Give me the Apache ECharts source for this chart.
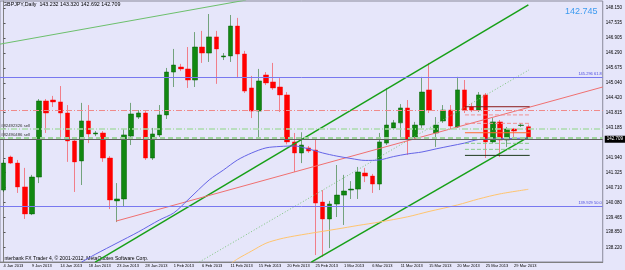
<!DOCTYPE html>
<html>
<head>
<meta charset="utf-8">
<script src="https://cdn.jsdelivr.net/npm/echarts@6/dist/echarts.min.js"></script>
<style>
  html, body { margin: 0; padding: 0; background: #e6e6fa; }
  #main { width: 625px; height: 270px; }
</style>
</head>
<body>
<div id="main"></div>
<script>
// bars (MT4 daily, Sunday bars included)
const dates = [
  "4 Jan 2013", "6 Jan 2013", "7 Jan 2013", "8 Jan 2013", "9 Jan 2013", "10 Jan 2013", "11 Jan 2013",
  "13 Jan 2013", "14 Jan 2013", "15 Jan 2013", "16 Jan 2013", "17 Jan 2013", "18 Jan 2013",
  "20 Jan 2013", "21 Jan 2013", "22 Jan 2013", "23 Jan 2013", "24 Jan 2013", "25 Jan 2013",
  "27 Jan 2013", "28 Jan 2013", "29 Jan 2013", "30 Jan 2013", "31 Jan 2013", "1 Feb 2013",
  "3 Feb 2013", "4 Feb 2013", "5 Feb 2013", "6 Feb 2013", "7 Feb 2013", "8 Feb 2013",
  "10 Feb 2013", "11 Feb 2013", "12 Feb 2013", "13 Feb 2013", "14 Feb 2013", "15 Feb 2013",
  "17 Feb 2013", "18 Feb 2013", "19 Feb 2013", "20 Feb 2013", "21 Feb 2013", "22 Feb 2013",
  "24 Feb 2013", "25 Feb 2013", "26 Feb 2013", "27 Feb 2013", "28 Feb 2013", "1 Mar 2013",
  "3 Mar 2013", "4 Mar 2013", "5 Mar 2013", "6 Mar 2013", "7 Mar 2013", "8 Mar 2013",
  "10 Mar 2013", "11 Mar 2013", "12 Mar 2013", "13 Mar 2013", "14 Mar 2013", "15 Mar 2013",
  "17 Mar 2013", "18 Mar 2013", "19 Mar 2013", "20 Mar 2013", "21 Mar 2013", "22 Mar 2013",
  "24 Mar 2013", "25 Mar 2013", "26 Mar 2013", "27 Mar 2013", "28 Mar 2013", "29 Mar 2013",
  "31 Mar 2013", "1 Apr 2013"
];
const opens = [
  140.60, 141.97, 141.72, 140.73, 139.61, 141.14, 144.30, 144.34, 144.26, 143.80,
  142.64, 141.81, 143.47, 142.93, 142.97, 141.93, 140.15, 140.23, 142.84, 143.63,
  143.80, 141.93, 142.89, 143.72, 145.50, 145.71, 145.63, 145.17, 146.54, 146.29,
  146.96, 146.13, 146.17, 147.41, 146.25, 144.84, 143.88, 145.38, 145.09, 144.88,
  144.55, 142.60, 142.14, 142.35, 142.26, 140.10, 139.40, 140.02, 140.39, 140.60,
  140.64, 141.31, 141.18, 140.85, 142.55, 143.18, 143.39, 144.01, 142.80, 143.30,
  144.76, 142.97, 143.47, 143.92, 143.22, 144.76, 144.05, 143.92, 144.55, 142.60,
  143.43, 142.68, 143.14, 143.28, 143.232
];
const closes = [
  141.72, 141.72, 140.73, 139.61, 141.14, 144.30, 143.80, 144.26, 143.80, 142.64,
  141.77, 143.47, 142.93, 142.97, 141.93, 140.19, 140.23, 142.89, 143.76, 143.80,
  141.93, 142.93, 143.72, 145.50, 145.79, 145.63, 145.17, 146.54, 146.29, 146.96,
  146.46, 146.17, 147.41, 146.25, 144.71, 143.88, 145.13, 145.05, 144.84, 144.55,
  142.60, 142.14, 142.47, 142.22, 140.06, 139.40, 140.02, 140.39, 140.56, 140.64,
  141.35, 141.18, 140.85, 142.60, 143.30, 143.39, 144.01, 142.72, 143.30, 144.67,
  143.92, 143.30, 143.92, 143.26, 144.76, 143.92, 143.92, 144.55, 142.60, 143.43,
  142.68, 143.14, 143.05, 143.30, 142.709
];
const lows = [
  140.52, 141.68, 140.48, 139.40, 139.56, 140.89, 142.97, 144.05, 142.80, 141.77,
  140.52, 140.81, 142.55, 142.84, 141.77, 139.81, 139.27, 139.90, 142.47, 143.55,
  141.85, 141.85, 142.80, 143.55, 144.88, 145.54, 144.84, 144.88, 145.88, 145.92,
  145.01, 146.00, 145.92, 145.25, 144.63, 143.59, 142.76, 144.96, 144.76, 143.84,
  142.50, 141.35, 141.72, 142.14, 137.90, 137.82, 138.19, 139.48, 139.15, 140.23,
  140.23, 140.93, 140.48, 140.60, 142.47, 143.10, 142.76, 142.06, 142.68, 143.18,
  143.80, 142.39, 143.39, 143.14, 143.18, 143.80, 143.84, 143.84, 141.93, 142.55,
  141.97, 142.39, 142.76, 143.22, 142.692
];
const highs = [
  141.85, 142.03, 141.85, 141.52, 141.23, 144.38, 144.38, 144.51, 144.92, 144.13,
  142.76, 144.22, 144.13, 143.05, 143.05, 142.01, 140.89, 143.14, 144.22, 143.92,
  143.88, 143.18, 144.13, 145.67, 146.46, 145.84, 146.54, 147.16, 147.21, 147.91,
  147.21, 146.29, 147.87, 147.75, 146.38, 145.34, 145.63, 145.50, 145.88, 145.25,
  144.67, 142.97, 143.00, 142.43, 142.80, 140.60, 140.15, 141.64, 141.23, 140.97,
  141.56, 141.52, 141.27, 142.97, 144.84, 143.51, 144.17, 144.34, 143.43, 145.30,
  145.88, 143.63, 144.13, 144.13, 145.30, 145.17, 144.22, 144.67, 144.63, 143.59,
  143.51, 143.22, 143.18, 143.38, 143.320
];

// right axis labels as MT4 prints them
const priceTicks = [148.150, 147.535, 146.905, 146.290, 145.675, 145.040, 144.420, 143.815,
  143.185, 141.940, 141.325, 140.710, 140.080, 139.465, 138.850, 138.220, 137.605];

// moving averages, [bar index, price]
const maBlue = [[11, 137.61], [13, 137.94], [16, 138.40], [19, 138.86], [22, 139.36], [24, 139.65],
  [26, 140.19], [29, 141.02], [31, 141.43], [33, 141.85], [35, 142.14], [37, 142.35], [39, 142.41],
  [41, 142.43], [43, 142.31], [45, 142.14], [47, 142.01], [49, 141.91], [51, 141.83], [53, 141.85],
  [55, 141.99], [57, 142.10], [59, 142.18], [61, 142.31], [63, 142.43], [65, 142.55], [67, 142.70],
  [69, 142.72], [71, 142.74], [74, 142.76]];
const maOrange = [[32, 137.53], [33, 137.74], [35, 138.07], [37, 138.39], [39, 138.57], [41, 138.69],
  [43, 138.79], [47, 138.98], [50, 139.13], [53, 139.27], [57, 139.49], [60, 139.71], [64, 139.98],
  [67, 140.23], [70, 140.44], [74, 140.63]];

// drawn objects, [bar index, price]
const thinGreen = [[-0.5, 146.66], [34.2, 148.49]];
const channelUpper = [[12.92, 137.61], [74.01, 148.29]];
const channelMid = [[27.6, 137.61], [74.1, 145.59]];
const channelLower = [[43.4, 137.61], [74.0, 142.80]];
const redRay = [[15.86, 139.31], [84.5, 144.88]];
const boxFrom = 65.07, boxTo = 74.2;
const boxLevels = [144.06, 143.72, 143.37, 142.98, 142.54, 142.29, 142.04];

const fib618 = 145.296, fib50 = 139.929;
const stopLevel = 143.925;
const sell1 = 143.15, sell2 = 142.78;
const lastClose = 142.709, bid = 142.745;
const header = "GBPJPY,Daily  143.232 143.320 142.692 142.709";

const cats = dates.slice();
for (let i = dates.length; i < 85; i++) cats.push("_" + i);
const candles = dates.map((d, i) => [opens[i], closes[i], lows[i], highs[i]]);

const tiny = "'Liberation Sans', Arial, sans-serif";
function seg(data, color, type, width) {
  return {
    type: "line", xAxisIndex: 1, data: data, symbol: "none", silent: true,
    lineStyle: { color: color, type: type || "solid", width: width || 1 },
    animation: false,
  };
}
const boxStyles = [
  ["#8b1a1a", "solid"], ["#f09090", [4, 2]], ["#f09090", [4, 2]], ["#ff6a30", "solid"],
  ["#88cc88", [4, 2]], ["#88cc88", [4, 2]], ["#1c3a1c", "solid"],
];

const chart = echarts.init(document.getElementById("main"));
chart.setOption({
  backgroundColor: "#e6e6fa",
  animation: false,
  grid: {
    left: -1, right: 18, top: 1, bottom: 8,
    show: true, backgroundColor: "#e6e6fa", borderColor: "#8a8a9a", borderWidth: 1,
  },
  xAxis: [
    {
      type: "category",
      data: cats,
      boundaryGap: true,
      axisLine: { lineStyle: { color: "#808080" } },
      axisTick: {
        alignWithLabel: true, length: 2, lineStyle: { color: "#555" },
        interval: (i) => i % 4 === 0 && i <= 72,
      },
      axisLabel: {
        interval: (i) => i % 4 === 0 && i <= 72,
        align: "left", fontSize: 4, margin: 2, color: "#000", fontFamily: tiny,
      },
      splitLine: { show: false },
    },
    { type: "value", min: -0.5, max: 84.5, show: false },
  ],
  yAxis: {
    type: "value",
    position: "right",
    min: 137.612,
    max: 148.451,
    axisLine: { show: true, lineStyle: { color: "#808080" } },
    axisTick: { show: true, length: 2, customValues: priceTicks, lineStyle: { color: "#555" } },
    axisLabel: {
      customValues: priceTicks, fontSize: 4.5, margin: 3, color: "#000", fontFamily: tiny,
      formatter: (v) => v.toFixed(3),
    },
    splitLine: { show: false },
  },
  graphic: [
    { type: "text", left: 3, top: 2, style: { text: header, fontSize: 5.3, fill: "#000", fontFamily: tiny } },
    { type: "text", left: 3, top: 256, style: { text: "Interbank FX Trader 4, \u00a9 2001-2012, MetaQuotes Software Corp.", fontSize: 5, fill: "#000", fontFamily: tiny } },
    { type: "text", left: 565, top: 7, style: { text: bid.toFixed(3), fontSize: 9, fill: "#3c9af0", fontFamily: tiny } },
  ],
  series: [
    {
      name: "GBPJPY",
      type: "candlestick",
      data: candles,
      barWidth: 5,
      itemStyle: {
        color: "#118811",
        color0: "#ff0000",
        borderColor: "rgba(0,95,0,0.5)",
        borderColor0: "rgba(255,0,0,0.45)",
        borderWidth: 1,
      },
      markLine: {
        symbol: ["none", "none"],
        silent: true,
        animation: false,
        data: [
          { yAxis: fib618, lineStyle: { color: "#7878f0", type: "solid", width: 1 },
            label: { show: true, position: "insideEndTop", formatter: fib618.toFixed(3) + " 61.8", color: "#4848e0", fontSize: 4, distance: 1, fontFamily: tiny } },
          { yAxis: fib50, lineStyle: { color: "#7878f0", type: "solid", width: 1 },
            label: { show: true, position: "insideEndTop", formatter: fib50.toFixed(3) + " 50.0", color: "#4848e0", fontSize: 4, distance: 1, fontFamily: tiny } },
          { yAxis: stopLevel, lineStyle: { color: "#f08a8a", type: [6, 2, 1, 2], width: 1 }, label: { show: false } },
          { yAxis: sell1, lineStyle: { color: "#aadcaa", type: [6, 2, 1, 2], width: 1.5 },
            label: { show: true, position: "insideStartTop", formatter: "#82492326 sell", color: "#333", fontSize: 4.3, distance: 1, fontFamily: tiny } },
          { yAxis: sell2, lineStyle: { color: "#9fd49f", type: [5, 3], width: 2 },
            label: { show: true, position: "insideStartTop", formatter: "#82490486 sell", color: "#333", fontSize: 4.3, distance: 1, fontFamily: tiny } },
          { yAxis: lastClose, lineStyle: { color: "#606060", type: "solid", width: 1 },
            label: { show: true, position: "end", formatter: lastClose.toFixed(3), color: "#fff", backgroundColor: "#000", fontSize: 4.5, padding: [1, 2], distance: 2, fontFamily: tiny } },
        ],
      },
    },
    seg(thinGreen, "#6cbf6c"),
    seg(channelUpper, "#17a017", "solid", 1.5),
    seg(channelMid, "#7cc47c", [1, 2]),
    seg(channelLower, "#17a017", "solid", 1.5),
    seg(redRay, "#f07070"),
    Object.assign(seg(maBlue, "#6464e6"), { smooth: 0.3 }),
    Object.assign(seg(maOrange, "#ffc46e"), { smooth: 0.3 }),
  ].concat(boxLevels.map((p, k) => seg([[boxFrom, p], [boxTo, p]], boxStyles[k][0], boxStyles[k][1]))),
});
</script>
</body>
</html>
